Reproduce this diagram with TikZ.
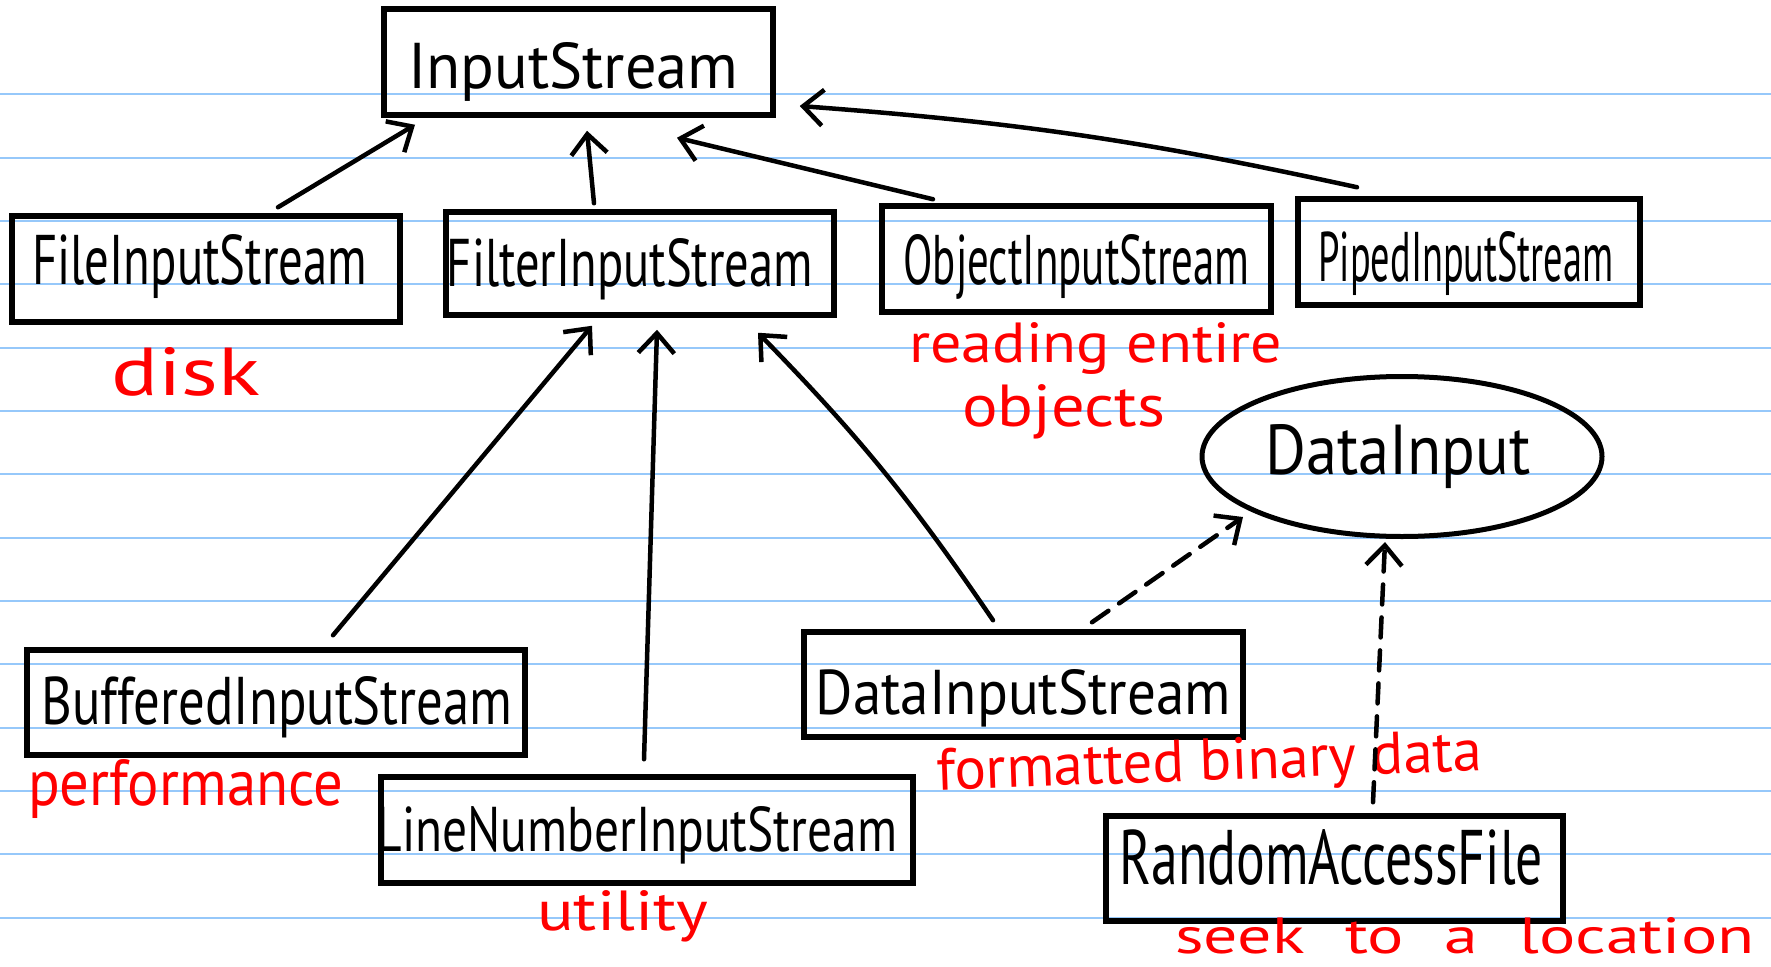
\documentclass[tikz,border=0pt]{standalone}
\usepackage{fontspec}
\setmainfont{PT Sans}
\usepackage{graphicx}
\usetikzlibrary{arrows.meta,shapes.geometric}
\definecolor{ruleblue}{RGB}{150,200,250}
\definecolor{inkred}{RGB}{255,0,0}
\newcommand{\hwt}[5]{\raisebox{#2}[\height][\depth]{\hbox{\hspace*{#1}\resizebox{#3}{#4}{#5}\hspace*{-#1}}}}
\tikzset{
  ruled/.style={draw=ruleblue, line width=2pt},
  cls/.style={draw=black, line width=5.5pt, inner sep=0pt, rectangle},
  lbl/.style={text=inkred, inner sep=0pt, anchor=base west},
  arr/.style={line width=4.5pt, line cap=round, line join=round, -{Straight Barb[length=20pt,width=36pt]}},
  darr/.style={arr, dash pattern=on 20pt off 13pt}
}
\begin{document}
\begin{tikzpicture}[x=1pt,y=-1pt]
\fill[white] (0,0) rectangle (1771,966);
\useasboundingbox (0,0) rectangle (1771,966);
\foreach \k in {0,...,13}{\draw[ruled] (0,{94.3+63.33*\k}) -- (1771,{94.3+63.33*\k});}

\node[cls, minimum width=389pt, minimum height=106pt] (input) at (578.5,62) {\hwt{-5pt}{-10pt}{330pt}{46pt}{InputStream}};
\node[cls, minimum width=388pt, minimum height=106pt] (file) at (206,269) {\hwt{-6pt}{2pt}{335pt}{50pt}{FileInputStream}};
\node[cls, minimum width=388pt, minimum height=103pt] (filter) at (640,263.5) {\hwt{-10pt}{-6pt}{366pt}{48pt}{FilterInputStream}};
\node[cls, minimum width=389pt, minimum height=106pt] (object) at (1076.5,259) {\hwt{0pt}{-8pt}{346pt}{50pt}{ObjectInputStream}};
\node[cls, minimum width=342pt, minimum height=106pt] (piped) at (1469,252) {\hwt{-3pt}{-12pt}{295pt}{50pt}{PipedInputStream}};
\node[cls, minimum width=498pt, minimum height=105pt] (buffered) at (276,702.5) {\hwt{1pt}{-5pt}{471pt}{48pt}{BufferedInputStream}};
\node[cls, minimum width=532pt, minimum height=106pt] (linenum) at (647,830) {\hwt{-10pt}{-5pt}{520pt}{45pt}{LineNumberInputStream}};
\node[cls, minimum width=439pt, minimum height=105pt] (datas) at (1023.5,684.5) {\hwt{0pt}{-14pt}{415pt}{45pt}{DataInputStream}};
\node[cls, minimum width=457pt, minimum height=105pt] (raf) at (1334.5,868.5) {\hwt{-3pt}{11pt}{423pt}{55pt}{RandomAccessFile}};
\node[ellipse, draw=black, line width=5pt, minimum width=400pt, minimum height=160pt, inner sep=0pt] (dinput) at (1402,456.5) {\hwt{-4pt}{0pt}{265pt}{50pt}{DataInput}};

\node[lbl] (disk) at (111,395) {\resizebox{149pt}{48pt}{disk}};
\node[lbl] (perf) at (28,805) {\resizebox{315pt}{46pt}{performance}};
\node[lbl] (util) at (537,930) {\resizebox{171pt}{40pt}{utility}};
\node[lbl] (read) at (909,362) {\resizebox{373pt}{40pt}{reading entire}};
\node[lbl] (objs) at (962,426) {\resizebox{203pt}{42pt}{objects}};
\node[lbl, rotate=2] (fmt) at (937,790) {\resizebox{546pt}{42pt}{formatted binary data}};
\node[lbl] (seek) at (1175,953) {\resizebox{579pt}{36pt}{seek\hspace{0.6em}to\hspace{0.6em}a\hspace{0.6em}location}};

\draw[arr] ([xshift=72pt,yshift=6pt]file.north) -- ([xshift=-163.5pt,yshift=-7pt]input.south);
\draw[arr] ([xshift=-46pt,yshift=6pt]filter.north) -- ([xshift=8.5pt,yshift=-13pt]input.south);
\draw[arr] ([xshift=-143.5pt,yshift=4pt]object.north) -- ([xshift=98.5pt,yshift=-20pt]input.south);
\draw[arr] ([xshift=-112pt,yshift=9pt]piped.north) to[bend right=4] ([xshift=24pt,yshift=-44pt]input.east);
\draw[arr] ([xshift=57pt,yshift=12pt]buffered.north) -- ([xshift=-48pt,yshift=-8pt]filter.south);
\draw[arr] ([xshift=-3pt,yshift=15pt]linenum.north) -- ([xshift=17pt,yshift=-12pt]filter.south);
\draw[arr] ([xshift=-30.5pt,yshift=9pt]datas.north) to[bend right=5] ([xshift=118pt,yshift=-15pt]filter.south);
\draw[darr] ([xshift=68.5pt,yshift=7pt]datas.north) -- ([xshift=-159pt,yshift=-60.5pt]dinput.center);
\draw[darr] ([xshift=38.5pt,yshift=11pt]raf.north) -- ([xshift=-17pt,yshift=-85.5pt]dinput.center);
\end{tikzpicture}
\end{document}
